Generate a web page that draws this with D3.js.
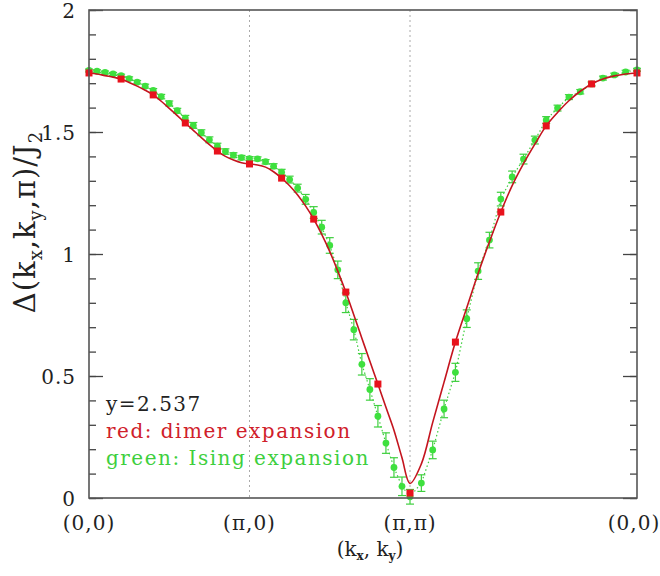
<!DOCTYPE html>
<html>
<head>
<meta charset="utf-8">
<script src="https://cdnjs.cloudflare.com/ajax/libs/d3/7.8.5/d3.min.js"></script>
<style>
  body { margin: 0; background: #fff; }
  text { font-family: "DejaVu Serif", serif; }
</style>
</head>
<body>
<div id="chart"></div>
<script>

// path Γ -> X -> M -> Γ, positions in units of π along the path
var tickLabels = [ "(0,0)", "(π,0)", "(π,π)", "(0,0)" ];
var tickPath = [ 0, 1, 2, 2 + Math.SQRT2 ];
var yTicks = [ 0, 0.5, 1, 1.5, 2 ];
var yTickLabels = [ "0", "0.5", "1", "1.5", "2" ];

// Ising expansion, 20 steps on each of the three segments
var greenVals = [
  1.752, 1.749, 1.744, 1.738, 1.731, 1.719, 1.704, 1.688, 1.670, 1.645, 1.617,
  1.587, 1.557, 1.527, 1.497, 1.468, 1.442, 1.420, 1.405, 1.395, 1.391,
  1.390, 1.378, 1.360, 1.335, 1.305, 1.270, 1.224, 1.170, 1.110, 1.035,
  0.935, 0.800, 0.690, 0.548, 0.445, 0.335, 0.225, 0.125, 0.048, 0.005,
  0.061, 0.197, 0.365, 0.515, 0.735, 0.930, 1.057, 1.225, 1.316, 1.389,
  1.467, 1.549, 1.598, 1.643, 1.665, 1.697, 1.721, 1.734, 1.746, 1.755
];
var greenErr = [
  0.006, 0.006, 0.006, 0.006, 0.006, 0.007, 0.007, 0.008, 0.008, 0.009, 0.010,
  0.010, 0.011, 0.012, 0.012, 0.012, 0.012, 0.011, 0.010, 0.009, 0.008,
  0.008, 0.009, 0.010, 0.012, 0.014, 0.016, 0.020, 0.024, 0.028, 0.032,
  0.036, 0.040, 0.042, 0.044, 0.044, 0.044, 0.042, 0.040, 0.038, 0.030,
  0.034, 0.036, 0.036, 0.037, 0.036, 0.034, 0.032, 0.028, 0.024, 0.020,
  0.016, 0.014, 0.012, 0.010, 0.009, 0.008, 0.008, 0.007, 0.007, 0.006
];

// dimer expansion, curve on the same grid
var redCurve = [
  1.742, 1.738, 1.731, 1.725, 1.717, 1.703, 1.688, 1.671, 1.652, 1.626, 1.597,
  1.567, 1.537, 1.507, 1.477, 1.448, 1.422, 1.400, 1.385, 1.374, 1.369,
  1.365, 1.356, 1.337, 1.311, 1.280, 1.242, 1.196, 1.143, 1.080, 1.010,
  0.930, 0.844, 0.750, 0.655, 0.560, 0.467, 0.372, 0.278, 0.165, 0.060,
  0.140, 0.310, 0.475, 0.639, 0.780, 0.920, 1.050, 1.172, 1.280, 1.370,
  1.450, 1.525, 1.580, 1.628, 1.667, 1.697, 1.717, 1.730, 1.738, 1.742
];
// dimer expansion points, every 4th grid step
var redVals = [ 1.742, 1.717, 1.652, 1.537, 1.422, 1.369, 1.311, 1.143,
                0.844, 0.467, 0.020, 0.639, 1.172, 1.525, 1.697, 1.742 ];

var legendLines = [ "y=2.537", "red: dimer expansion", "green: Ising expansion" ];
var legendColors = [ "#222", "#d0202a", "#3ecf3e" ];

function pathPos( i ) {
  if( i <= 40 ) return i / 20;
  return 2 + ( i - 40 ) * Math.SQRT2 / 20;
}

var width = 660, height = 576;
var plotLeft = 89, plotRight = 637, plotTop = 10, plotBottom = 498;

var x = d3.scaleLinear().domain( [ 0, 2 + Math.SQRT2 ] ).range( [ plotLeft, plotRight ] );
var y = d3.scaleLinear().domain( [ 0, 2 ] ).range( [ plotBottom, plotTop ] );

var svg = d3.select( "#chart" ).append( "svg" )
  .attr( "width", width ).attr( "height", height );

// dotted vertical markers at X and M
svg.selectAll( ".vline" ).data( [ tickPath[ 1 ], tickPath[ 2 ] ] ).enter()
  .append( "line" )
  .attr( "x1", function( d ) { return x( d ); } )
  .attr( "x2", function( d ) { return x( d ); } )
  .attr( "y1", plotTop ).attr( "y2", plotBottom )
  .attr( "stroke", "#aaa" ).attr( "stroke-width", 1 )
  .attr( "stroke-dasharray", "2,3" );

// y ticks, left and right, pointing inward
var minor = d3.range( 0, 21 ).map( function( d ) { return d / 10; } );
function tickGroup( axis, pos ) {
  svg.append( "g" )
    .attr( "transform", "translate(" + pos + ",0)" )
    .call( axis )
    .call( function( g ) { g.select( ".domain" ).remove(); } );
}
tickGroup( d3.axisRight( y ).tickValues( minor ).tickSize( 7 ).tickFormat( "" ), plotLeft );
tickGroup( d3.axisRight( y ).tickValues( yTicks ).tickSize( 14 ).tickFormat( "" ), plotLeft );
tickGroup( d3.axisLeft( y ).tickValues( minor ).tickSize( 7 ).tickFormat( "" ), plotRight );
tickGroup( d3.axisLeft( y ).tickValues( yTicks ).tickSize( 14 ).tickFormat( "" ), plotRight );
svg.selectAll( ".tick line" ).attr( "stroke", "#444" ).attr( "stroke-width", 1.3 );

svg.selectAll( ".ylab" ).data( yTicks ).enter()
  .append( "text" )
  .attr( "x", plotLeft - 13 )
  .attr( "y", function( d ) { return y( d ) + 8; } )
  .attr( "text-anchor", "end" )
  .attr( "font-size", 20 )
  .attr( "letter-spacing", 1 )
  .attr( "fill", "#222" )
  .text( function( d, i ) { return yTickLabels[ i ]; } );

svg.selectAll( ".xlab" ).data( tickPath ).enter()
  .append( "text" )
  .attr( "x", function( d, i ) { return i == 3 ? x( d ) - 3 : x( d ); } )
  .attr( "y", 530 )
  .attr( "text-anchor", "middle" )
  .attr( "font-size", 20 )
  .attr( "letter-spacing", 1 )
  .attr( "fill", "#222" )
  .text( function( d, i ) { return tickLabels[ i ]; } );

// green: dotted line, error bars, points
var gData = greenVals.map( function( v, i ) {
  return { t : pathPos( i ), v : v, e : greenErr[ i ] };
} );

svg.append( "path" )
  .datum( gData )
  .attr( "fill", "none" )
  .attr( "stroke", "#3ecf3e" )
  .attr( "stroke-width", 1.2 )
  .attr( "stroke-dasharray", "1.5,2.5" )
  .attr( "d", d3.line()
    .x( function( d ) { return x( d.t ); } )
    .y( function( d ) { return y( d.v ); } ) );

var eb = svg.append( "g" ).attr( "stroke", "#3ecf3e" ).attr( "stroke-width", 1.2 );
gData.forEach( function( d ) {
  var cx = x( d.t ), y0 = y( d.v - d.e ), y1 = y( d.v + d.e );
  eb.append( "line" ).attr( "x1", cx ).attr( "x2", cx ).attr( "y1", y0 ).attr( "y2", y1 );
  eb.append( "line" ).attr( "x1", cx - 4 ).attr( "x2", cx + 4 ).attr( "y1", y0 ).attr( "y2", y0 );
  eb.append( "line" ).attr( "x1", cx - 4 ).attr( "x2", cx + 4 ).attr( "y1", y1 ).attr( "y2", y1 );
} );

svg.selectAll( ".gpt" ).data( gData ).enter()
  .append( "circle" )
  .attr( "cx", function( d ) { return x( d.t ); } )
  .attr( "cy", function( d ) { return y( d.v ); } )
  .attr( "r", 3.4 )
  .attr( "fill", "#3ee03e" );

// red: smooth curve and squares
svg.append( "path" )
  .datum( redCurve )
  .attr( "fill", "none" )
  .attr( "stroke", "#c4141e" )
  .attr( "stroke-width", 1.6 )
  .attr( "d", d3.line()
    .curve( d3.curveCatmullRom )
    .x( function( d, i ) { return x( pathPos( i ) ); } )
    .y( function( d ) { return y( d ); } ) );

svg.selectAll( ".rpt" ).data( redVals ).enter()
  .append( "rect" )
  .attr( "x", function( d, i ) { return x( pathPos( i * 4 ) ) - 3.5; } )
  .attr( "y", function( d ) { return y( d ) - 3.5; } )
  .attr( "width", 7 ).attr( "height", 7 )
  .attr( "fill", "#e8121c" );

// frame
svg.append( "rect" )
  .attr( "x", plotLeft ).attr( "y", plotTop )
  .attr( "width", plotRight - plotLeft ).attr( "height", plotBottom - plotTop )
  .attr( "fill", "none" )
  .attr( "stroke", "#555" ).attr( "stroke-width", 1.6 );

// legend text
svg.selectAll( ".leg" ).data( legendLines ).enter()
  .append( "text" )
  .attr( "x", 106 )
  .attr( "y", function( d, i ) { return 411 + i * 27; } )
  .attr( "font-size", 20 )
  .attr( "letter-spacing", 1.5 )
  .attr( "fill", function( d, i ) { return legendColors[ i ]; } )
  .text( function( d ) { return d; } );

// axis titles
var yt = svg.append( "text" )
  .attr( "transform", "translate(35,222) rotate(-90)" )
  .attr( "text-anchor", "middle" )
  .attr( "font-size", 29 )
  .attr( "letter-spacing", 1 )
  .attr( "fill", "#222" );
yt.append( "tspan" ).text( "Δ(k" );
yt.append( "tspan" ).attr( "font-size", 18 ).attr( "dy", 7 ).text( "x" );
yt.append( "tspan" ).attr( "dy", -7 ).text( ",k" );
yt.append( "tspan" ).attr( "font-size", 18 ).attr( "dy", 7 ).text( "y" );
yt.append( "tspan" ).attr( "dy", -7 ).text( ",π)/J" );
yt.append( "tspan" ).attr( "font-size", 18 ).attr( "dy", 7 ).text( "2" );

var xt = svg.append( "text" )
  .attr( "x", 370 ).attr( "y", 556 )
  .attr( "text-anchor", "middle" )
  .attr( "font-size", 20 )
  .attr( "fill", "#222" );
xt.append( "tspan" ).text( "(k" );
xt.append( "tspan" ).attr( "font-size", 12 ).attr( "font-weight", "bold" ).attr( "dy", 4 ).text( "x" );
xt.append( "tspan" ).attr( "dy", -4 ).text( ",  k" );
xt.append( "tspan" ).attr( "font-size", 12 ).attr( "font-weight", "bold" ).attr( "dy", 4 ).text( "y" );
xt.append( "tspan" ).attr( "dy", -4 ).text( ")" );

</script>
</body>
</html>
